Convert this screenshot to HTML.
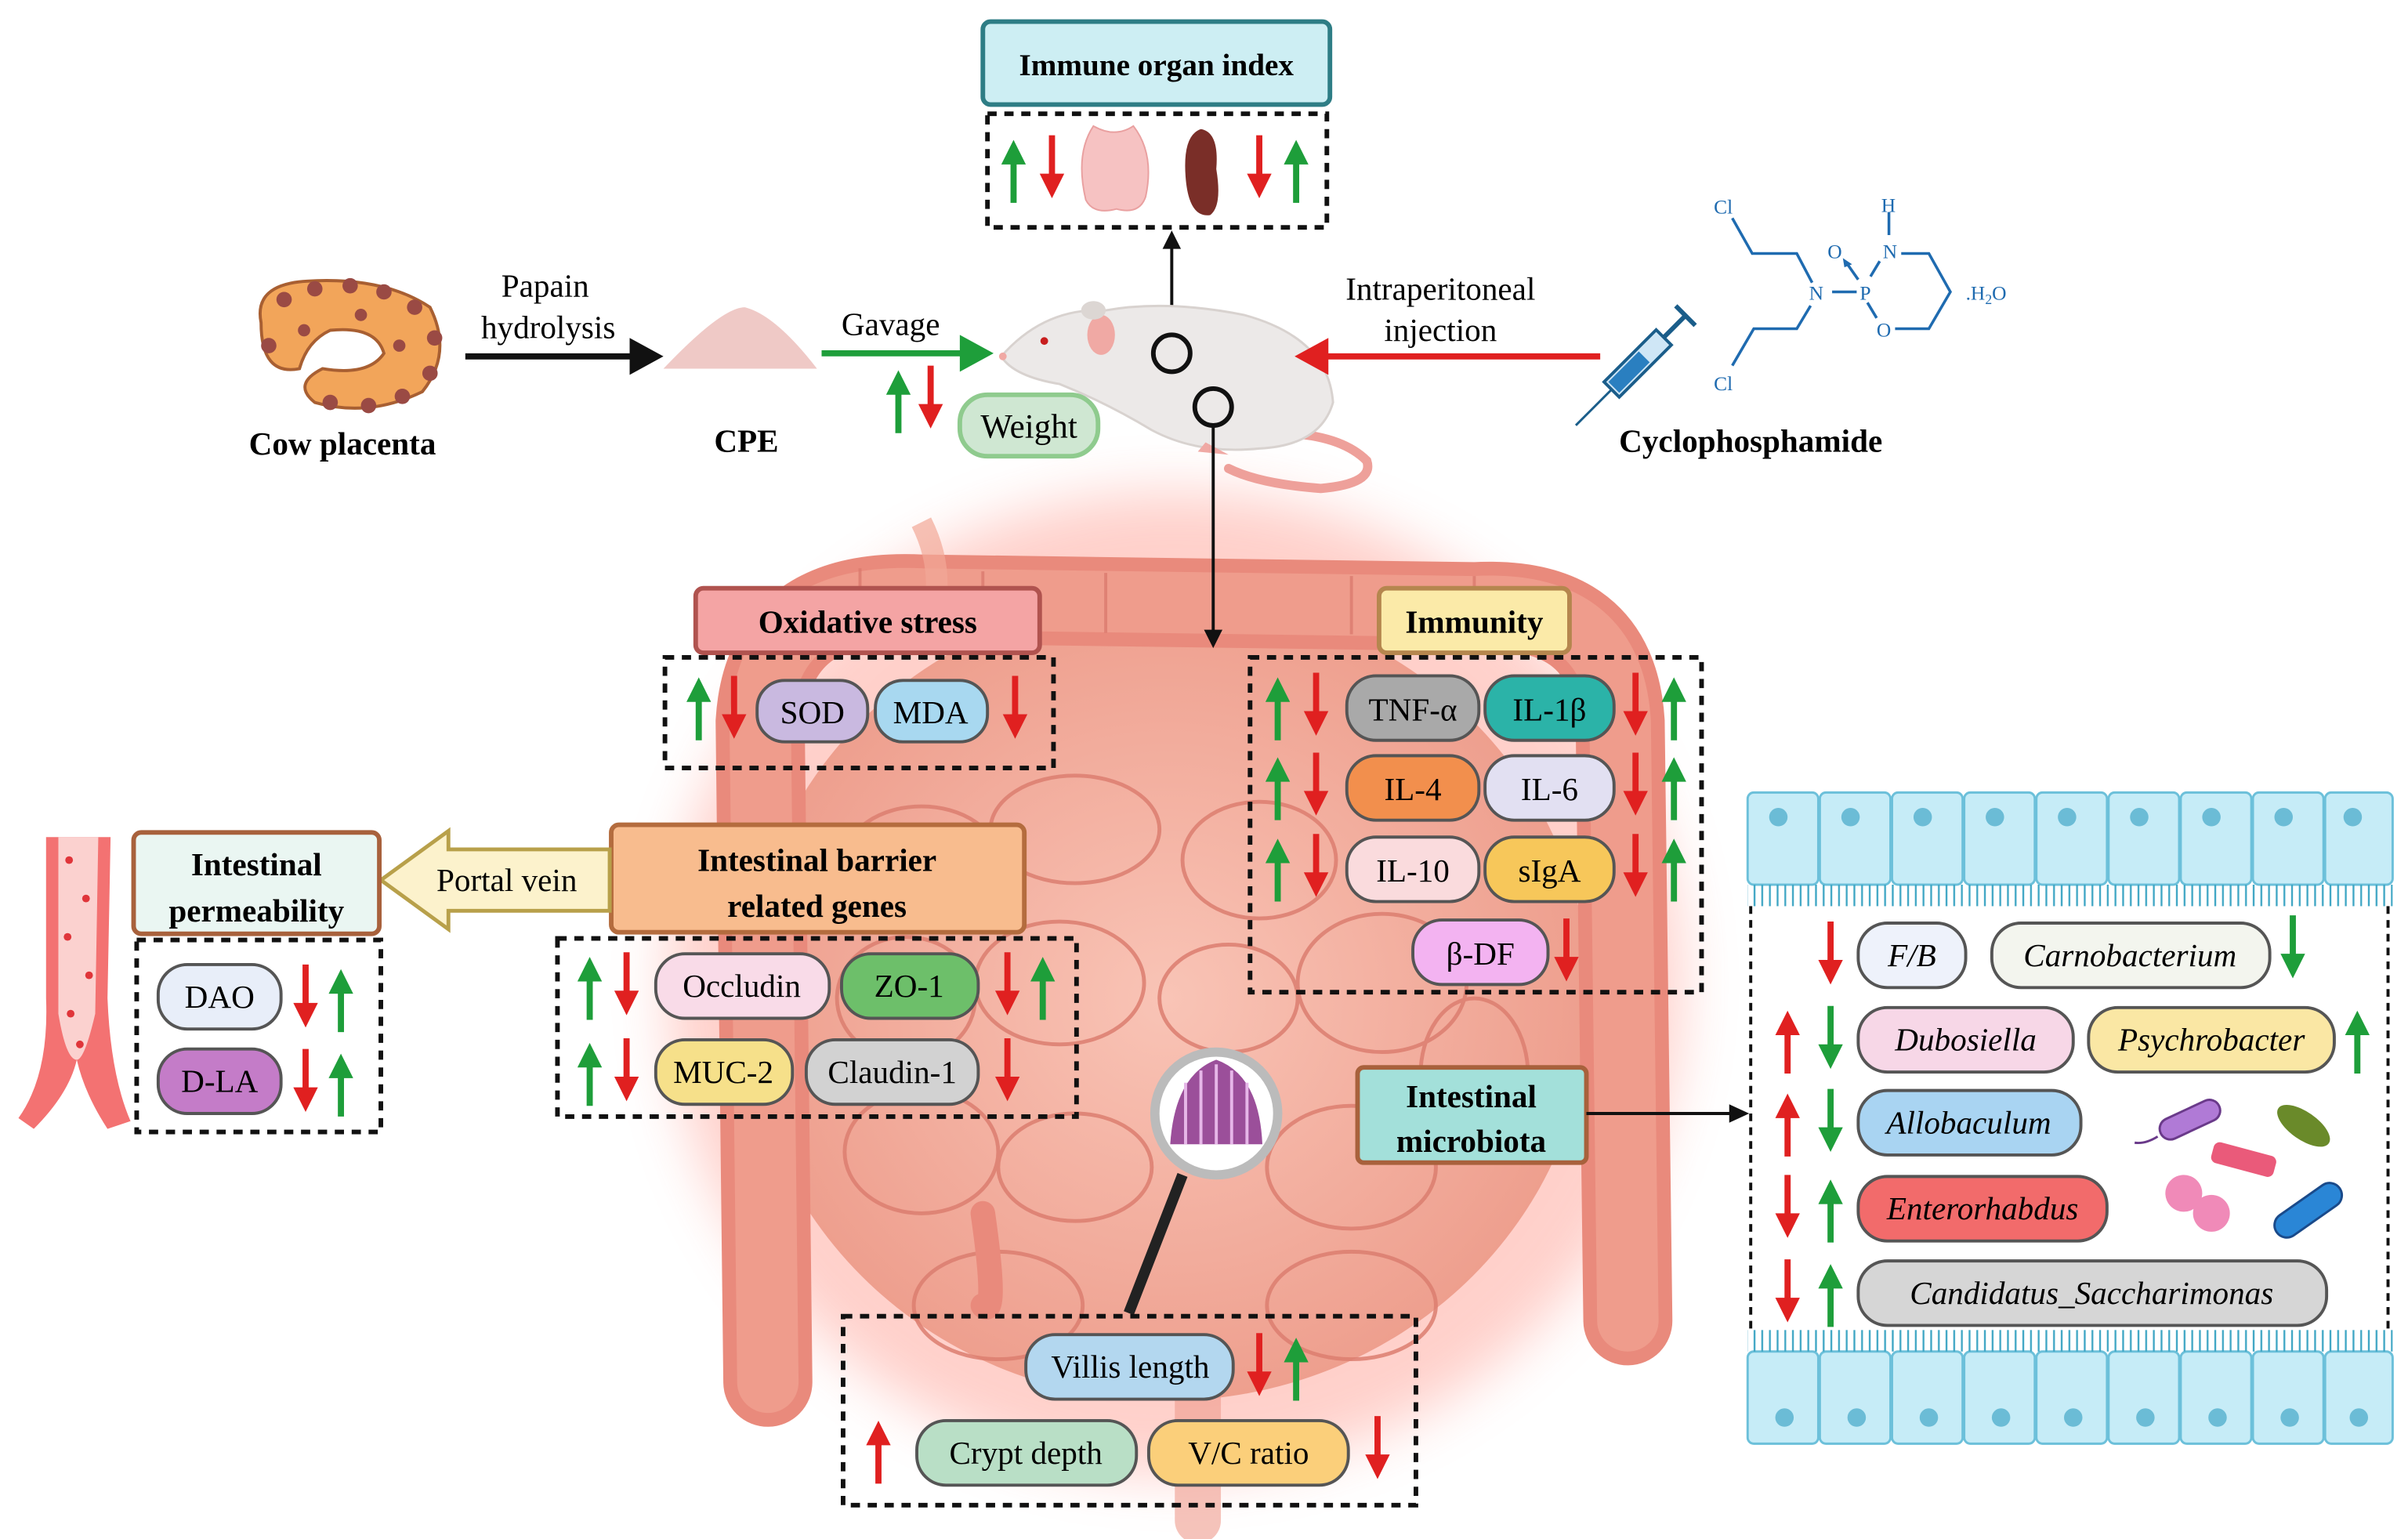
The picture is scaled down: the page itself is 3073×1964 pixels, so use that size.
<!DOCTYPE html>
<html><head><meta charset="utf-8"><style>
html,body{margin:0;padding:0;background:#fff;}
svg{display:block}
text{font-family:"Liberation Serif",serif;}
</style></head><body>
<svg width="3073" height="1964" viewBox="0 0 1568 1002" xmlns="http://www.w3.org/2000/svg">
<defs>
<g id="au"><line x1="0" y1="20" x2="0" y2="-6" stroke="currentColor" stroke-width="4"/><polygon points="-8,-5 8,-5 0,-21" fill="currentColor"/></g>
<g id="ad"><line x1="0" y1="-20" x2="0" y2="6" stroke="currentColor" stroke-width="4"/><polygon points="-8,5 8,5 0,21" fill="currentColor"/></g>
<filter id="blur" x="-30%" y="-30%" width="160%" height="160%"><feGaussianBlur stdDeviation="18"/></filter>
<radialGradient id="gut" cx="50%" cy="50%" r="50%"><stop offset="0" stop-color="#f9c4b6"/><stop offset="1" stop-color="#ee9f8e"/></radialGradient>
<pattern id="mv" width="5" height="16" patternUnits="userSpaceOnUse"><line x1="2.5" y1="0" x2="2.5" y2="16" stroke="#3fa6c4" stroke-width="1.2"/></pattern>
</defs>

<!-- intestine -->
<g>
<ellipse cx="765" cy="640" rx="330" ry="320" fill="#ff7a6a" opacity="0.35" filter="url(#blur)"/>
<ellipse cx="760" cy="650" rx="275" ry="262" fill="url(#gut)"/>
<path d="M500 900 L495 470 Q500 385 600 390 L960 395 Q1050 390 1055 470 L1060 860" fill="none" stroke="#e98a7c" stroke-width="58" stroke-linecap="round"/>
<path d="M500 900 L495 470 Q500 385 600 390 L960 395 Q1050 390 1055 470 L1060 860" fill="none" stroke="#f0a090" stroke-width="40" stroke-linecap="round" opacity="0.8"/>
<g fill="none" stroke="#dc7e70" stroke-width="2.5" opacity="0.85">
<ellipse cx="600" cy="560" rx="50" ry="35"/><ellipse cx="700" cy="540" rx="55" ry="35"/><ellipse cx="820" cy="560" rx="50" ry="38"/>
<ellipse cx="590" cy="650" rx="45" ry="40"/><ellipse cx="690" cy="640" rx="55" ry="40"/><ellipse cx="800" cy="650" rx="45" ry="35"/><ellipse cx="900" cy="640" rx="55" ry="45"/>
<ellipse cx="600" cy="750" rx="50" ry="40"/><ellipse cx="700" cy="760" rx="50" ry="35"/><ellipse cx="880" cy="760" rx="55" ry="40"/>
<ellipse cx="650" cy="850" rx="55" ry="35"/><ellipse cx="880" cy="850" rx="55" ry="35"/><ellipse cx="960" cy="700" rx="35" ry="50"/>
</g>
<g stroke="#d9776b" stroke-width="2" opacity="0.7">
<line x1="560" y1="370" x2="560" y2="410"/><line x1="640" y1="372" x2="640" y2="410"/><line x1="720" y1="373" x2="720" y2="412"/><line x1="880" y1="375" x2="880" y2="413"/><line x1="960" y1="375" x2="960" y2="413"/>
</g>
<path d="M640 790 Q650 860 640 850" stroke="#e98a7c" stroke-width="16" fill="none" stroke-linecap="round"/>
<path d="M780 900 L780 990" stroke="#ef9c8e" stroke-width="30" stroke-linecap="round" opacity="0.6"/>
<path d="M600 340 Q620 380 600 420" stroke="#f2a897" stroke-width="14" fill="none" opacity="0.7"/>
</g>

<!-- top: immune organ index -->
<rect x="640" y="14" width="226" height="54" rx="5" fill="#cdeef3" stroke="#2e7d85" stroke-width="3"/>
<text x="753" y="49" font-size="20" font-weight="bold" text-anchor="middle">Immune organ index</text>
<rect x="643" y="74" width="221" height="74" fill="none" stroke="#111" stroke-width="3" stroke-dasharray="6,5"/>
<use href="#au" x="660" y="112" color="#1e9e3a"/>
<use href="#ad" x="685" y="108" color="#e02020"/>
<path d="M712 82 Q700 100 707 130 Q712 140 727 136 Q742 140 746 128 Q752 100 738 82 Q726 90 712 82Z" fill="#f6c2c2" stroke="#e9a0a0"/>
<path d="M782 84 Q770 88 772 115 Q774 142 788 140 Q796 134 792 110 Q794 86 782 84Z" fill="#7a2e28"/>
<use href="#ad" x="820" y="108" color="#e02020"/>
<use href="#au" x="844" y="112" color="#1e9e3a"/>
<line x1="763" y1="222" x2="763" y2="160" stroke="#111" stroke-width="2"/>
<polygon points="757,162 769,162 763,150" fill="#111"/>

<!-- cow placenta -->
<g>
<path d="M170 210 Q165 185 200 183 Q250 180 280 200 Q295 230 275 255 Q240 272 205 262 Q190 250 210 240 Q240 245 250 230 Q245 212 215 215 Q200 222 195 240 Q170 245 170 210Z" fill="#f2a55a" stroke="#a85f32" stroke-width="2"/>
<g fill="#9a4a44">
<circle cx="185" cy="195" r="5"/><circle cx="205" cy="188" r="5"/><circle cx="228" cy="186" r="5"/><circle cx="250" cy="190" r="5"/><circle cx="270" cy="200" r="5"/><circle cx="283" cy="220" r="5"/><circle cx="280" cy="243" r="5"/><circle cx="262" cy="258" r="5"/><circle cx="240" cy="264" r="5"/><circle cx="215" cy="262" r="5"/><circle cx="175" cy="225" r="5"/><circle cx="198" cy="215" r="4"/><circle cx="260" cy="225" r="4"/><circle cx="235" cy="205" r="4"/>
</g>
</g>
<text x="223" y="296" font-size="21" font-weight="bold" text-anchor="middle">Cow placenta</text>
<text x="355" y="193" font-size="21" text-anchor="middle">Papain</text>
<text x="357" y="220" font-size="21" text-anchor="middle">hydrolysis</text>
<line x1="303" y1="232" x2="412" y2="232" stroke="#111" stroke-width="4"/>
<polygon points="410,220 432,232 410,244" fill="#111"/>

<!-- CPE -->
<path d="M432 240 Q470 200 485 200 Q505 205 532 240 Z" fill="#efc9c6"/>
<text x="486" y="294" font-size="21" font-weight="bold" text-anchor="middle">CPE</text>
<text x="580" y="218" font-size="21" text-anchor="middle">Gavage</text>
<line x1="535" y1="230" x2="628" y2="230" stroke="#1e9e3a" stroke-width="4"/>
<polygon points="625,218 647,230 625,242" fill="#1e9e3a"/>

<!-- mouse -->
<g>
<path d="M820 282 Q870 280 890 300 Q895 315 860 318 Q820 315 800 305" fill="none" stroke="#eea09a" stroke-width="6" stroke-linecap="round"/>
<path d="M652 232 Q680 200 720 202 Q760 195 810 205 Q865 220 868 262 Q860 290 820 292 Q780 296 750 280 Q720 262 690 250 Q660 245 652 232Z" fill="#ece9e8" stroke="#d8d2cf" stroke-width="1.5"/>
<ellipse cx="717" cy="218" rx="9" ry="13" fill="#f0a9a4"/>
<ellipse cx="712" cy="202" rx="8" ry="6" fill="#dcd6d3"/>
<circle cx="680" cy="222" r="2.5" fill="#c81e1e"/>
<circle cx="653" cy="232" r="2.5" fill="#f0a9a4"/>
<path d="M785 288 l15 8 l-20 -2" fill="#f0a9a4"/>
<circle cx="763" cy="230" r="12" fill="none" stroke="#111" stroke-width="3"/>
<circle cx="790" cy="265" r="12" fill="none" stroke="#111" stroke-width="3"/>
</g>
<line x1="790" y1="277" x2="790" y2="412" stroke="#111" stroke-width="2"/>
<polygon points="784,410 796,410 790,422" fill="#111"/>
<use href="#au" x="585" y="262" color="#1e9e3a"/>
<use href="#ad" x="606" y="258" color="#e02020"/>
<rect x="625" y="257" width="90" height="40" rx="18" fill="#cfe7d2" stroke="#8fcb8e" stroke-width="3"/>
<text x="670" y="285" font-size="22" text-anchor="middle">Weight</text>

<!-- injection -->
<text x="938" y="195" font-size="21" text-anchor="middle">Intraperitoneal</text>
<text x="938" y="222" font-size="21" text-anchor="middle">injection</text>
<line x1="1042" y1="232" x2="862" y2="232" stroke="#e02020" stroke-width="4"/>
<polygon points="865,220 843,232 865,244" fill="#e02020"/>
<g transform="translate(1065,238) rotate(-45)">
<rect x="-22" y="-7" width="48" height="14" fill="#cfe6f6" stroke="#1a5d8a" stroke-width="2"/>
<rect x="-20" y="-5" width="28" height="10" fill="#2a7fc0"/>
<line x1="26" y1="0" x2="46" y2="0" stroke="#1a5d8a" stroke-width="3"/>
<line x1="46" y1="-9" x2="46" y2="9" stroke="#1a5d8a" stroke-width="3"/>
<line x1="-22" y1="0" x2="-55" y2="0" stroke="#1a5d8a" stroke-width="1.5"/>
</g>
<g stroke="#1f6bb0" stroke-width="1.8" fill="none">
<polyline points="1128,142 1141,165 1170,165 1180,184"/>
<polyline points="1179,199 1170,214 1142,214 1128,238"/>
<line x1="1193" y1="190" x2="1209" y2="190"/>
<line x1="1218" y1="180" x2="1224" y2="170"/>
<line x1="1216" y1="197" x2="1222" y2="207"/>
<polyline points="1238,165 1256,165 1270,190 1256,214 1234,214"/>
<line x1="1230" y1="138" x2="1230" y2="153"/>
<line x1="1210" y1="182" x2="1203" y2="172"/>
</g>
<polygon points="1200,168 1206,172 1201,174" fill="#1f6bb0"/>
<g fill="#1f6bb0" font-size="13">
<text x="1116" y="139" font-family="Liberation Sans,sans-serif">Cl</text>
<text x="1116" y="254" font-family="Liberation Sans,sans-serif">Cl</text>
<text x="1178" y="195" font-family="Liberation Sans,sans-serif">N</text>
<text x="1211" y="195" font-family="Liberation Sans,sans-serif">P</text>
<text x="1190" y="168" font-family="Liberation Sans,sans-serif">O</text>
<text x="1226" y="168" font-family="Liberation Sans,sans-serif">N</text>
<text x="1225" y="138" font-family="Liberation Sans,sans-serif">H</text>
<text x="1222" y="219" font-family="Liberation Sans,sans-serif">O</text>
<text x="1280" y="195" font-family="Liberation Sans,sans-serif">.H<tspan font-size="9" dy="3">2</tspan><tspan dy="-3">O</tspan></text>
</g>
<text x="1140" y="294" font-size="21" font-weight="bold" text-anchor="middle">Cyclophosphamide</text>

<!-- Oxidative stress -->
<rect x="453" y="383" width="224" height="42" rx="5" fill="#f4a4a4" stroke="#b0534f" stroke-width="3"/>
<text x="565" y="412" font-size="21" font-weight="bold" text-anchor="middle">Oxidative stress</text>
<rect x="433" y="428" width="253" height="72" fill="none" stroke="#111" stroke-width="3" stroke-dasharray="6,5"/>
<use href="#au" x="455" y="462" color="#1e9e3a"/>
<use href="#ad" x="478" y="460" color="#e02020"/>
<rect x="493" y="443" width="72" height="40" rx="18" fill="#c9b9e0" stroke="#555" stroke-width="2"/>
<text x="529" y="471" font-size="21" text-anchor="middle">SOD</text>
<rect x="570" y="443" width="73" height="40" rx="18" fill="#a8d8f0" stroke="#555" stroke-width="2"/>
<text x="606" y="471" font-size="21" text-anchor="middle">MDA</text>
<use href="#ad" x="661" y="460" color="#e02020"/>

<!-- Immunity -->
<rect x="898" y="383" width="124" height="42" rx="5" fill="#fbeaa8" stroke="#b5864e" stroke-width="3"/>
<text x="960" y="412" font-size="21" font-weight="bold" text-anchor="middle">Immunity</text>
<rect x="814" y="428" width="294" height="218" fill="none" stroke="#111" stroke-width="3" stroke-dasharray="6,5"/>
<g>
<use href="#au" x="832" y="462" color="#1e9e3a"/><use href="#ad" x="857" y="458" color="#e02020"/>
<use href="#ad" x="1065" y="458" color="#e02020"/><use href="#au" x="1090" y="462" color="#1e9e3a"/>
<use href="#au" x="832" y="514" color="#1e9e3a"/><use href="#ad" x="857" y="510" color="#e02020"/>
<use href="#ad" x="1065" y="510" color="#e02020"/><use href="#au" x="1090" y="514" color="#1e9e3a"/>
<use href="#au" x="832" y="567" color="#1e9e3a"/><use href="#ad" x="857" y="563" color="#e02020"/>
<use href="#ad" x="1065" y="563" color="#e02020"/><use href="#au" x="1090" y="567" color="#1e9e3a"/>
<use href="#ad" x="1020" y="618" color="#e02020"/>
</g>
<g stroke="#555" stroke-width="2">
<rect x="877" y="440" width="86" height="42" rx="19" fill="#a9a9a9"/>
<rect x="967" y="440" width="84" height="42" rx="19" fill="#2bb3a8"/>
<rect x="877" y="492" width="86" height="42" rx="19" fill="#f28f4d"/>
<rect x="967" y="492" width="84" height="42" rx="19" fill="#e2e0f2"/>
<rect x="877" y="545" width="86" height="42" rx="19" fill="#fadbdd"/>
<rect x="967" y="545" width="84" height="42" rx="19" fill="#f7c75a"/>
<rect x="920" y="599" width="88" height="42" rx="19" fill="#f3b3f1"/>
</g>
<g font-size="21" text-anchor="middle">
<text x="920" y="469">TNF-α</text><text x="1009" y="469">IL-1β</text>
<text x="920" y="521">IL-4</text><text x="1009" y="521">IL-6</text>
<text x="920" y="574">IL-10</text><text x="1009" y="574">sIgA</text>
<text x="964" y="628">β-DF</text>
</g>

<!-- Intestinal barrier -->
<rect x="398" y="537" width="269" height="70" rx="5" fill="#f8bc8e" stroke="#b46c3e" stroke-width="3"/>
<text x="532" y="567" font-size="21" font-weight="bold" text-anchor="middle">Intestinal barrier</text>
<text x="532" y="597" font-size="21" font-weight="bold" text-anchor="middle">related genes</text>
<rect x="363" y="611" width="338" height="116" fill="none" stroke="#111" stroke-width="3" stroke-dasharray="6,5"/>
<use href="#au" x="384" y="644" color="#1e9e3a"/><use href="#ad" x="408" y="640" color="#e02020"/>
<use href="#ad" x="656" y="640" color="#e02020"/><use href="#au" x="679" y="644" color="#1e9e3a"/>
<use href="#au" x="384" y="700" color="#1e9e3a"/><use href="#ad" x="408" y="696" color="#e02020"/>
<use href="#ad" x="656" y="696" color="#e02020"/>
<g stroke="#555" stroke-width="2">
<rect x="427" y="621" width="113" height="42" rx="19" fill="#f9dbe8"/>
<rect x="548" y="621" width="89" height="42" rx="19" fill="#6dbf6a"/>
<rect x="427" y="677" width="89" height="42" rx="19" fill="#f6e08a"/>
<rect x="525" y="677" width="112" height="42" rx="19" fill="#d2d2d2"/>
</g>
<g font-size="21" text-anchor="middle">
<text x="483" y="649">Occludin</text><text x="592" y="649">ZO-1</text>
<text x="471" y="705">MUC-2</text><text x="581" y="705">Claudin-1</text>
</g>

<!-- portal vein -->
<polygon points="397,553 292,553 292,541 248,573 292,605 292,593 397,593" fill="#fcf2cc" stroke="#b8a04a" stroke-width="2.5"/>
<text x="330" y="580" font-size="21" text-anchor="middle">Portal vein</text>

<!-- permeability -->
<rect x="87" y="542" width="160" height="66" rx="5" fill="#eaf6f2" stroke="#a8613c" stroke-width="3"/>
<text x="167" y="570" font-size="21" font-weight="bold" text-anchor="middle">Intestinal</text>
<text x="167" y="600" font-size="21" font-weight="bold" text-anchor="middle">permeability</text>
<rect x="89" y="612" width="159" height="125" fill="none" stroke="#111" stroke-width="3" stroke-dasharray="6,5"/>
<rect x="103" y="628" width="80" height="42" rx="19" fill="#e8eef9" stroke="#555" stroke-width="2"/>
<rect x="103" y="683" width="80" height="42" rx="19" fill="#c47cc8" stroke="#555" stroke-width="2"/>
<text x="143" y="656" font-size="21" text-anchor="middle">DAO</text>
<text x="143" y="711" font-size="21" text-anchor="middle">D-LA</text>
<use href="#ad" x="199" y="648" color="#e02020"/><use href="#au" x="222" y="652" color="#1e9e3a"/>
<use href="#ad" x="199" y="703" color="#e02020"/><use href="#au" x="222" y="707" color="#1e9e3a"/>

<!-- vessel -->
<path d="M30 545 L72 545 L70 650 Q72 700 85 730 L70 735 Q55 712 50 690 Q45 712 22 735 L12 728 Q32 700 30 650 Z" fill="#f37272"/>
<path d="M38 545 L64 545 L62 660 Q55 690 50 690 Q43 690 38 660Z" fill="#fbd1cf"/>
<g fill="#e0353a"><circle cx="45" cy="560" r="2.5"/><circle cx="56" cy="585" r="2.5"/><circle cx="44" cy="610" r="2.5"/><circle cx="58" cy="635" r="2.5"/><circle cx="46" cy="660" r="2.5"/><circle cx="52" cy="680" r="2.5"/></g>

<!-- magnifier -->
<line x1="770" y1="765" x2="735" y2="855" stroke="#222" stroke-width="7"/>
<circle cx="792" cy="725" r="40" fill="#fff" stroke="#bbb" stroke-width="6"/>
<path d="M762 745 Q765 700 792 690 Q820 700 822 745 Z" fill="#9b4f9a"/>
<g stroke="#e6b6e8" stroke-width="2"><line x1="772" y1="745" x2="772" y2="705"/><line x1="782" y1="745" x2="782" y2="697"/><line x1="792" y1="745" x2="792" y2="693"/><line x1="802" y1="745" x2="802" y2="697"/><line x1="812" y1="745" x2="812" y2="705"/></g>

<!-- villis -->
<rect x="549" y="857" width="373" height="123" fill="none" stroke="#111" stroke-width="3" stroke-dasharray="6,5"/>
<rect x="668" y="869" width="135" height="42" rx="19" fill="#b3d7ef" stroke="#555" stroke-width="2"/>
<text x="736" y="897" font-size="21" text-anchor="middle">Villis length</text>
<use href="#ad" x="820" y="888" color="#e02020"/><use href="#au" x="844" y="892" color="#1e9e3a"/>
<use href="#au" x="572" y="946" color="#e02020"/>
<rect x="597" y="925" width="143" height="42" rx="19" fill="#b9dfc6" stroke="#555" stroke-width="2"/>
<text x="668" y="953" font-size="21" text-anchor="middle">Crypt depth</text>
<rect x="748" y="925" width="130" height="42" rx="19" fill="#fbcf7a" stroke="#555" stroke-width="2"/>
<text x="813" y="953" font-size="21" text-anchor="middle">V/C ratio</text>
<use href="#ad" x="897" y="942" color="#e02020"/>

<!-- microbiota header -->
<rect x="884" y="695" width="149" height="62" rx="4" fill="#a3e0da" stroke="#a8613c" stroke-width="3"/>
<text x="958" y="721" font-size="21" font-weight="bold" text-anchor="middle">Intestinal</text>
<text x="958" y="750" font-size="21" font-weight="bold" text-anchor="middle">microbiota</text>
<line x1="1033" y1="725" x2="1128" y2="725" stroke="#111" stroke-width="2"/>
<polygon points="1126,719 1139,725 1126,731" fill="#111"/>

<!-- right panel -->
<g stroke="#6cc0da" stroke-width="1.5" fill="#c6ecf7">
<rect x="1138" y="516" width="46" height="60" rx="4"/><rect x="1185" y="516" width="46" height="60" rx="4"/><rect x="1232" y="516" width="46" height="60" rx="4"/><rect x="1279" y="516" width="46" height="60" rx="4"/><rect x="1326" y="516" width="46" height="60" rx="4"/><rect x="1373" y="516" width="46" height="60" rx="4"/><rect x="1420" y="516" width="46" height="60" rx="4"/><rect x="1467" y="516" width="46" height="60" rx="4"/><rect x="1514" y="516" width="44" height="60" rx="4"/>
<rect x="1138" y="880" width="46" height="60" rx="4"/><rect x="1185" y="880" width="46" height="60" rx="4"/><rect x="1232" y="880" width="46" height="60" rx="4"/><rect x="1279" y="880" width="46" height="60" rx="4"/><rect x="1326" y="880" width="46" height="60" rx="4"/><rect x="1373" y="880" width="46" height="60" rx="4"/><rect x="1420" y="880" width="46" height="60" rx="4"/><rect x="1467" y="880" width="46" height="60" rx="4"/><rect x="1514" y="880" width="44" height="60" rx="4"/>
</g>
<g fill="#6bbcd6">
<circle cx="1158" cy="532" r="6"/><circle cx="1205" cy="532" r="6"/><circle cx="1252" cy="532" r="6"/><circle cx="1299" cy="532" r="6"/><circle cx="1346" cy="532" r="6"/><circle cx="1393" cy="532" r="6"/><circle cx="1440" cy="532" r="6"/><circle cx="1487" cy="532" r="6"/><circle cx="1532" cy="532" r="6"/>
<circle cx="1162" cy="923" r="6"/><circle cx="1209" cy="923" r="6"/><circle cx="1256" cy="923" r="6"/><circle cx="1303" cy="923" r="6"/><circle cx="1350" cy="923" r="6"/><circle cx="1397" cy="923" r="6"/><circle cx="1444" cy="923" r="6"/><circle cx="1491" cy="923" r="6"/><circle cx="1536" cy="923" r="6"/>
</g>
<rect x="1138" y="576" width="420" height="14" fill="url(#mv)"/>
<rect x="1138" y="866" width="420" height="14" fill="url(#mv)"/>
<line x1="1140" y1="590" x2="1140" y2="866" stroke="#111" stroke-width="2" stroke-dasharray="5,4"/>
<line x1="1555" y1="590" x2="1555" y2="866" stroke="#111" stroke-width="2" stroke-dasharray="5,4"/>

<use href="#ad" x="1192" y="620" color="#e02020"/>
<use href="#ad" x="1493" y="616" color="#1e9e3a"/>
<use href="#au" x="1164" y="679" color="#e02020"/><use href="#ad" x="1192" y="675" color="#1e9e3a"/><use href="#au" x="1535" y="679" color="#1e9e3a"/>
<use href="#au" x="1164" y="733" color="#e02020"/><use href="#ad" x="1192" y="729" color="#1e9e3a"/>
<use href="#ad" x="1164" y="785" color="#e02020"/><use href="#au" x="1192" y="789" color="#1e9e3a"/>
<use href="#ad" x="1164" y="840" color="#e02020"/><use href="#au" x="1192" y="844" color="#1e9e3a"/>
<g stroke="#555" stroke-width="2">
<rect x="1210" y="601" width="70" height="42" rx="19" fill="#eef2fb"/>
<rect x="1297" y="601" width="181" height="42" rx="19" fill="#f3f5ee"/>
<rect x="1210" y="656" width="140" height="42" rx="19" fill="#f7d7e7"/>
<rect x="1360" y="656" width="160" height="42" rx="19" fill="#fae7a4"/>
<rect x="1210" y="710" width="145" height="42" rx="19" fill="#a9d4f2"/>
<rect x="1210" y="766" width="162" height="42" rx="19" fill="#f26b6b"/>
<rect x="1210" y="821" width="305" height="42" rx="19" fill="#d6d6d6"/>
</g>
<g font-size="21" font-style="italic" text-anchor="middle">
<text x="1245" y="629">F/B</text>
<text x="1387" y="629">Carnobacterium</text>
<text x="1280" y="684">Dubosiella</text>
<text x="1440" y="684">Psychrobacter</text>
<text x="1282" y="738">Allobaculum</text>
<text x="1291" y="794">Enterorhabdus</text>
<text x="1362" y="849">Candidatus_Saccharimonas</text>
</g>
<!-- bacteria -->
<g>
<rect x="1405" y="722" width="42" height="14" rx="7" fill="#b07ad6" stroke="#6a3a8a" stroke-width="1.5" transform="rotate(-25 1426 729)"/>
<path d="M1405 740 q-8 5 -15 4" stroke="#6a3a8a" fill="none" stroke-width="1.5"/>
<ellipse cx="1500" cy="733" rx="20" ry="9" fill="#6a8a2a" transform="rotate(35 1500 733)"/>
<rect x="1440" y="748" width="42" height="14" rx="4" fill="#ea5a7a" transform="rotate(15 1461 755)"/>
<circle cx="1422" cy="777" r="12" fill="#f08ab8"/><circle cx="1440" cy="790" r="12" fill="#f08ab8"/>
<rect x="1478" y="780" width="50" height="16" rx="8" fill="#2a86d6" stroke="#1a4a8a" stroke-width="1.5" transform="rotate(-35 1503 788)"/>
</g>
</svg>
</body></html>
